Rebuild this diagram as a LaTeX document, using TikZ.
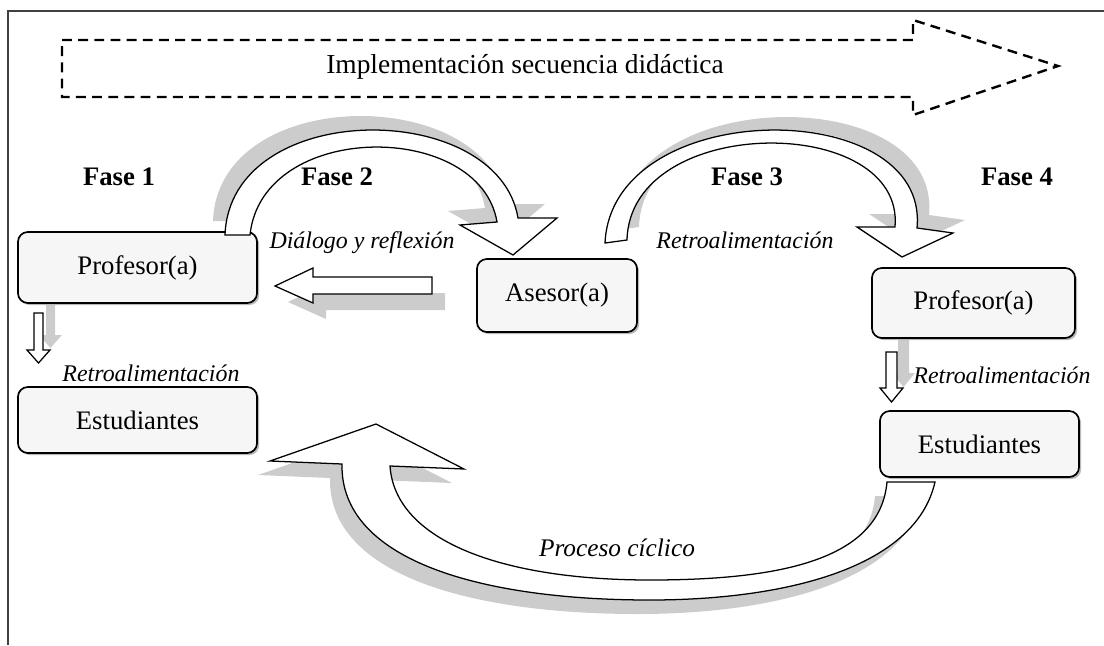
\documentclass[tikz,border=0pt]{standalone}
\usepackage{fontspec}
\setmainfont{Liberation Serif}
\usetikzlibrary{shadows}

\tikzset{
  caja/.style={draw, line width=1.2pt, rounded corners=7pt, fill=gray!7, inner sep=0pt,
    drop shadow={shadow xshift=1.5pt, shadow yshift=-1.5pt, opacity=1, fill=gray!55},
    font=\fontsize{19}{22}\selectfont},
  flecha/.style={draw, line width=0.9pt, fill=white, line join=miter},
  sombra/.style 2 args={drop shadow={shadow xshift=#1, shadow yshift=#2, opacity=1, fill=gray!40}},
  fase/.style={font=\bfseries\fontsize{19}{22}\selectfont},
  etiqueta/.style={font=\itshape\fontsize{17}{20}\selectfont}
}

\begin{document}
\begin{tikzpicture}[x=0.025cm, y=-0.025cm] % 1 unidad = 1 pixel, y hacia abajo
  \useasboundingbox (0,0) rectangle (1104,645);
  \draw[line width=1.3pt, black!75] (8,645) |- (1104,11); % marco

  % flecha punteada superior
  \draw[line width=1.7pt, dash pattern=on 7pt off 4.5pt]
    (62,40) -- (913,40) -- (913,20) -- (1058,66) -- (913,115) -- (913,97) -- (62,97) -- cycle;
  \node (titulo) at (525,67) {\fontsize{19.5}{22}\selectfont Implementación secuencia didáctica};

  % fases
  \node[fase] (f1) at (119,177) {Fase 1};
  \node[fase] (f2) at (337,177) {Fase 2};
  \node[fase] (f3) at (747,177) {Fase 3};
  \node[fase] (f4) at (1017,177) {Fase 4};

  % flechas pequenas hacia abajo
  \filldraw[flecha, sombra={0.3cm}{0.375cm}] (34,313) -- (43,313) -- (43,350) -- (50,350)
    -- (38.5,363) -- (27,350) -- (34,350) -- cycle;
  \filldraw[flecha, sombra={0.3cm}{0.375cm}] (886,352) -- (897,352) -- (897,388) -- (903,388)
    -- (891.5,402) -- (880,388) -- (886,388) -- cycle;

  % cajas
  \node[caja, minimum width=5.975cm, minimum height=1.775cm] (profL) at (137.5,267.5) {Profesor(a)};
  \node[caja, minimum width=5.975cm, minimum height=1.65cm] (estL) at (137.5,420) {Estudiantes};
  \node[caja, minimum width=4cm, minimum height=1.825cm] (asesor) at (557,295.5) {Asesor(a)};
  \node[caja, minimum width=5.075cm, minimum height=1.75cm] (profR) at (973.5,303) {Profesor(a)};
  \node[caja, minimum width=4.975cm, minimum height=1.65cm] (estR) at (979.5,444) {Estudiantes};

  % flecha horizontal (asesor -> profesor)
  \filldraw[flecha, sombra={0.325cm}{-0.4cm}] (432,277) -- (313,277) -- (313,268) -- (275,286)
    -- (313,303) -- (313,294) -- (432,294) -- cycle;

  % fase 2
  \filldraw[flecha, sombra={-0.3cm}{0.35cm}] (225,235) .. controls (230,98) and (498,98) .. (518,218)
    -- (557,218) -- (513,255) -- (460,225) -- (497,222)
    .. controls (480,120) and (262,120) .. (250,235) -- cycle;

  % fase 3
  \filldraw[flecha, sombra={0.3cm}{0.325cm}] (605,243) .. controls (612,95) and (930,95) .. (917,228)
    -- (953,233) -- (902,257) -- (857,227) -- (895,227)
    .. controls (905,113) and (630,113) .. (627,240) -- cycle;

  % proceso ciclico
  \filldraw[flecha, sombra={-0.3cm}{-0.35cm}] (935,482) .. controls (915,570) and (780,600) .. (650,600)
    .. controls (480,600) and (340,560) .. (342,464)
    -- (270,461) -- (376,424) -- (464,469) -- (390,466)
    .. controls (395,540) and (500,580) .. (650,580)
    .. controls (780,580) and (880,560) .. (887,482) -- cycle;

  % etiquetas
  \node[etiqueta] (dialogo) at (362,243) {Diálogo y reflexión};
  \node[etiqueta] (retroL) at (151,373) {Retroalimentación};
  \node[etiqueta] (retroM) at (745,240) {Retroalimentación};
  \node[etiqueta] (retroR) at (1002,375) {Retroalimentación};
  \node[etiqueta, font=\itshape\fontsize{18}{21}\selectfont] (ciclo) at (617,548) {Proceso cíclico};
\end{tikzpicture}
\end{document}
